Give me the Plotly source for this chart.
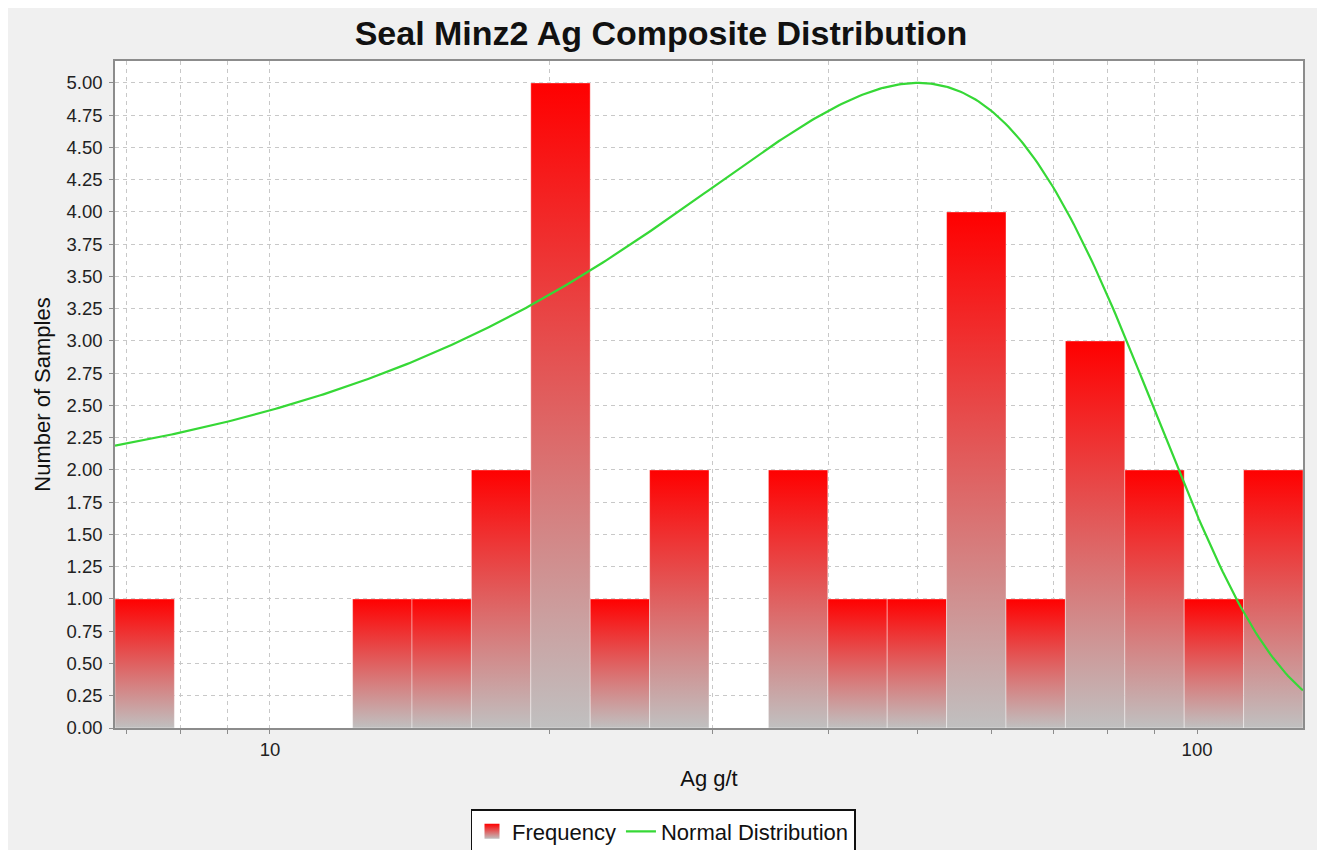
import numpy as np
import plotly.graph_objects as go

# Histogram of Ag grades (log-spaced bins) with a fitted normal curve
x_min = 6.805          # lower edge of the first bin, g/t
x_max = 130.1          # upper edge of the last bin, g/t
bin_counts = [1, 0, 0, 0, 1, 1, 2, 5, 1, 2, 0, 2, 1, 1, 4, 1, 3, 2, 1, 2]

# normal distribution fitted to the composites
dist_mean = 50.0
dist_sd = 33.6
dist_peak = 5.0

x_tick_vals = [7, 8, 9, 10, 20, 30, 40, 50, 60, 70, 80, 90, 100]
x_tick_text = ["", "", "", "10", "", "", "", "", "", "", "", "", "100"]

RED = "#ff0000"
GREY = "#c0c0c0"
GREEN = "#36d836"
FONT = "Arial, Liberation Sans, sans-serif"

edges = np.logspace(np.log10(x_min), np.log10(x_max), len(bin_counts) + 1)

fig = go.Figure()

# legend entry for the histogram (gradient square)
fig.add_trace(go.Scatter(
    x=[None], y=[None], mode="markers", name="Frequency",
    marker=dict(symbol="square", size=15, color=RED,
                gradient=dict(type="vertical", color=GREY)),
))

# one filled polygon per bin so each bar gets its own vertical gradient
for i, c in enumerate(bin_counts):
    if c <= 0:
        continue
    x0, x1 = edges[i], edges[i + 1]
    fig.add_trace(go.Scatter(
        x=[x0, x0, x1, x1, x0], y=[0, c, c, 0, 0],
        mode="lines", fill="toself",
        fillgradient=dict(type="vertical",
                          colorscale=[[0, GREY], [1, RED]]),
        line=dict(color="rgba(255,255,255,0.4)", width=1),
        showlegend=False, hoverinfo="skip",
    ))

xs = np.logspace(np.log10(x_min), np.log10(x_max), 400)
ys = dist_peak * np.exp(-(xs - dist_mean) ** 2 / (2 * dist_sd ** 2))
fig.add_trace(go.Scatter(
    x=xs, y=ys, mode="lines", name="Normal Distribution",
    line=dict(color=GREEN, width=2.2),
))

grid = dict(showgrid=True, gridcolor="#c8c8c8", griddash="4px,4px", gridwidth=1,
            showline=True, linecolor="#8c8c8c", linewidth=1.5, mirror=True,
            ticks="outside", ticklen=4, tickcolor="#8c8c8c", zeroline=False,
            tickfont=dict(family=FONT, size=18.5, color="#222222"))

fig.update_xaxes(
    type="log", range=[np.log10(x_min), np.log10(x_max)],
    tickmode="array", tickvals=x_tick_vals, ticktext=x_tick_text,
    title=dict(text="Ag g/t", font=dict(family=FONT, size=22, color="#111111"),
               standoff=12),
    **grid,
)
fig.update_yaxes(
    range=[0, 5.17], tickmode="linear", tick0=0, dtick=0.25, tickformat=".2f",
    ticklabelstandoff=3,
    title=dict(text="Number of Samples",
               font=dict(family=FONT, size=22, color="#111111"), standoff=10),
    **grid,
)

# white frame around the grey panel
frame = [
    dict(x0=-0.2, x1=1.1, y0=(728 - 8) / 667, y1=1.2),
    dict(x0=-0.2, x1=(8 - 115) / 1188, y0=-0.3, y1=1.2),
    dict(x0=(1317 - 115) / 1188, x1=1.1, y0=-0.3, y1=1.2),
]
for f in frame:
    fig.add_shape(type="rect", xref="paper", yref="paper", layer="below",
                  line=dict(width=0), fillcolor="white", **f)

fig.update_layout(
    width=1322, height=850,
    margin=dict(l=115, r=19, t=61, b=122, autoexpand=False),
    paper_bgcolor="#f0f0f0", plot_bgcolor="white",
    font=dict(family=FONT),
    title=dict(text="<b>Seal Minz2 Ag Composite Distribution</b>",
               x=(661) / 1322, xanchor="center", xref="container",
               y=1 - 33 / 850, yanchor="middle", yref="container",
               font=dict(family=FONT, size=34, color="#111111")),
    legend=dict(orientation="h", x=(663 - 115) / 1188, xanchor="center",
                y=(728 - 809) / 667, yanchor="top",
                bgcolor="white", bordercolor="#111111", borderwidth=1.5,
                font=dict(family=FONT, size=22, color="#111111"),
                itemwidth=30, tracegroupgap=0),
    showlegend=True,
)

fig.write_html("out.html")
